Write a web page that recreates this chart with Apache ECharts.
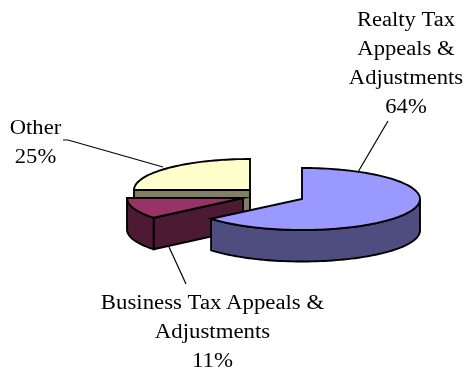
<!DOCTYPE html>
<html>
<head>
<meta charset="utf-8">
<style>html,body{margin:0;padding:0;background:#fff}#c{width:466px;height:369px}</style>
<script src="https://cdn.jsdelivr.net/npm/echarts@6/dist/echarts.min.js"></script>
</head>
<body>
<div id="c"></div>
<script>
// Data
const categories = ['Realty Tax\nAppeals &\nAdjustments', 'Business Tax\u2009Appeals &\nAdjustments', 'Other'];
const values = [64, 11, 25];

// Drawing styles and layout
const topColors = ['#9999FF', '#993366', '#FFFFCC'];
const sideColors = ['#4D4D80', '#4D1A33', '#808066'];
const centers = [[302, 199], [243, 198], [250, 190]];
const radiiX = [118, 116, 116];
const RY = 31, DEPTH = 31.5;
const labelLayout = [
  { x: 406, y: 6, sx: 1.13 },
  { x: 212.5, y: 289, sx: 1.14 },
  { x: 35.5, y: 114, sx: 1.13 }
];
const leaders = [
  [[388, 121], [358, 172]],
  [[169, 247], [186, 284]],
  [[63, 140], [68, 140], [163, 167]]
];
const zBase = [30, 20, 10];

const total = values.reduce((a, b) => a + b, 0);
const starts = values.map((v, i) => values.slice(0, i).reduce((a, b) => a + b, 0) / total * 360);

function pt(i, deg, dz) {
  const c = centers[i];
  const t = deg * Math.PI / 180;
  return [c[0] + radiiX[i] * Math.sin(t), c[1] - RY * Math.cos(t) + (dz || 0)];
}
function arc(i, a, b, dz) {
  const n = Math.max(2, Math.ceil(Math.abs(b - a) / 2));
  const out = [];
  for (let k = 0; k <= n; k++) out.push(pt(i, a + (b - a) * k / n, dz));
  return out;
}

function renderItem(params, api) {
  const i = params.dataIndex;
  const v = api.value(0);
  const s = starts[i], e = s + v / total * 360;
  const c = centers[i], z = zBase[i];
  const children = [];
  const line = { stroke: '#000', lineWidth: 1.9, lineJoin: 'miter' };
  const poly = (points, fill, zz) => children.push({
    type: 'polygon', z2: zz, shape: { points },
    style: Object.assign({ fill }, line)
  });

  // visible radial faces
  const addRadial = (deg) => {
    const p = pt(i, deg);
    poly([c, p, [p[0], p[1] + DEPTH], [c[0], c[1] + DEPTH]], sideColors[i], z);
  };
  if (s > 180 && s < 360) addRadial(s);
  if (e > 0 && e < 180) addRadial(e);

  // outer wall (front half of the ellipse)
  const a = Math.max(s, 90), b = Math.min(e, 270);
  if (b > a) {
    poly(arc(i, a, b, 0).concat(arc(i, b, a, DEPTH)), sideColors[i], z + 1);
  }

  // top face
  poly([c].concat(arc(i, s, e, 0)), topColors[i], z + 2);

  // leader line
  children.push({
    type: 'polyline', z2: 50, shape: { points: leaders[i] },
    style: { stroke: '#000', lineWidth: 1.2, fill: null }
  });

  // label
  const L = labelLayout[i];
  children.push({
    type: 'text', z2: 60, x: L.x, y: L.y, scaleX: L.sx,
    style: {
      text: categories[i] + '\n' + v + '%',
      font: '20px "Liberation Serif"',
      fill: '#000', align: 'center', verticalAlign: 'top', lineHeight: 29
    }
  });
  return { type: 'group', children };
}

const chart = echarts.init(document.getElementById('c'), null, { renderer: 'canvas' });
chart.setOption({
  animation: false,
  backgroundColor: '#fff',
  series: [{
    type: 'custom',
    coordinateSystem: 'none',
    renderItem,
    clip: false,
    silent: true,
    data: values.map((v, i) => ({ name: categories[i], value: [v] }))
  }]
});
</script>
</body>
</html>
